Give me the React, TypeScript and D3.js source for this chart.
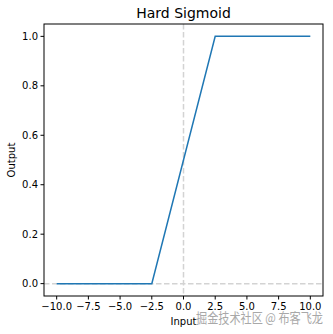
import React from "react";
import * as d3 from "d3";

const inputs = [-10, -2.5, 2.5, 10];
const outputs = [0, 0, 1, 1];
const xTicks = [-10, -7.5, -5, -2.5, 0, 2.5, 5, 7.5, 10];
const yTicks = [0, 0.2, 0.4, 0.6, 0.8, 1.0];

const W = 333, H = 334;
const M = { left: 44, right: 323, top: 24, bottom: 296 };

const fmtX = (v: number) => d3.format(".1f")(v).replace("-", "\u2212");
const fmtY = (v: number) => d3.format(".1f")(v);

export default function App() {
  const x = d3.scaleLinear().domain([-11, 11]).range([M.left, M.right]);
  const y = d3.scaleLinear().domain([-0.05, 1.05]).range([M.bottom, M.top]);
  const pts = inputs.map((v, i) => [v, outputs[i]] as [number, number]);
  const line = d3.line<[number, number]>().x(d => x(d[0])).y(d => y(d[1]));
  const font = "DejaVu Sans, sans-serif";
  return (
    <svg width={W} height={H} style={{ position: "absolute", left: 0, top: 0, background: "#fff" }} fontFamily={font}>
      <rect x={0} y={0} width={W} height={H} fill="#fff" />
      <line x1={x(0)} x2={x(0)} y1={M.top} y2={M.bottom} stroke="#d3d3d3" strokeWidth={1.5} strokeDasharray="5.5,2.5" />
      <line x1={M.left} x2={M.right} y1={y(0)} y2={y(0)} stroke="#d3d3d3" strokeWidth={1.5} strokeDasharray="5.5,2.5" />
      <path d={line(pts) || ""} fill="none" stroke="#1f77b4" strokeWidth={1.5} />
      <rect x={M.left} y={M.top} width={M.right - M.left} height={M.bottom - M.top} fill="none" stroke="#000" strokeWidth={1} />
      {xTicks.map(t => (
        <g key={"x" + t}>
          <line x1={x(t)} x2={x(t)} y1={M.bottom} y2={M.bottom + 3.5} stroke="#000" />
          <text x={x(t)} y={M.bottom + 14} fontSize={10} textAnchor="middle">{fmtX(t)}</text>
        </g>
      ))}
      {yTicks.map(t => (
        <g key={"y" + t}>
          <line x1={M.left - 3.5} x2={M.left} y1={y(t)} y2={y(t)} stroke="#000" />
          <text x={M.left - 6} y={y(t) + 3.5} fontSize={10} textAnchor="end">{fmtY(t)}</text>
        </g>
      ))}
      <text x={(M.left + M.right) / 2} y={18} fontSize={14} textAnchor="middle">Hard Sigmoid</text>
      <text x={x(0)} y={325} fontSize={10} textAnchor="middle">Input</text>
      <text transform={`translate(15,${(M.top + M.bottom) / 2}) rotate(-90)`} fontSize={10} textAnchor="middle">Output</text>
      <text x={196} y={323} fontSize={13.5} textAnchor="start" textLength={127} lengthAdjust="spacingAndGlyphs" fill="#9a9a9a" fontFamily="Noto Sans CJK SC, sans-serif" opacity={0.85}>掘金技术社区 @ 布客飞龙</text>
    </svg>
  );
}
